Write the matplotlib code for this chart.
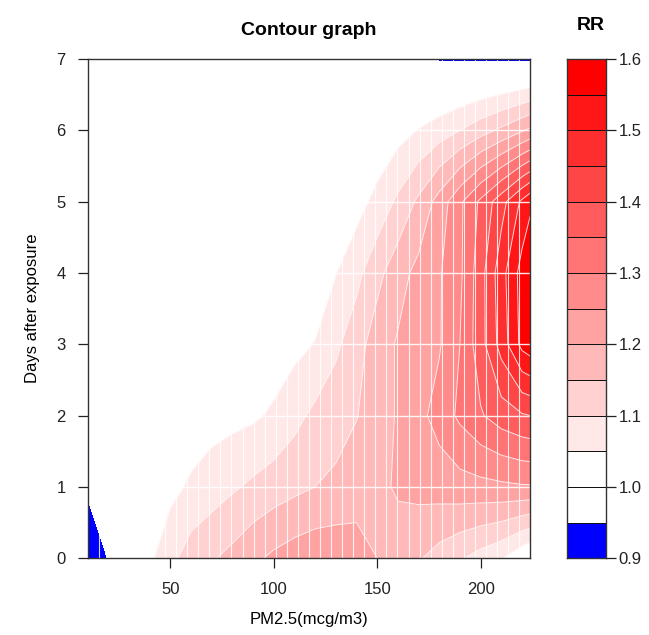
import numpy as np
import matplotlib
matplotlib.use("Agg")
import matplotlib.pyplot as plt
from matplotlib.colors import ListedColormap, BoundaryNorm

plt.rcParams['font.family'] = ['Liberation Sans', 'DejaVu Sans']

# exposure grid (PM2.5) and lag days
pm = np.array([10, 20, 30, 40, 50, 60, 70, 80, 90, 100, 110, 120, 130, 140,
               150, 160, 170, 180, 190, 200, 210, 220, 224])
lags = np.arange(0, 8)

# RR, one row per lag day
rr_lag0 = [0.91, 0.952, 0.99, 1.04, 1.085, 1.125, 1.145, 1.165, 1.19, 1.21, 1.225, 1.235,
           1.235, 1.225, 1.20, 1.18, 1.155, 1.13, 1.105, 1.08, 1.055, 1.01, 0.995]
rr_lag1 = [0.9576, 0.975, 0.995, 1.015, 1.035, 1.058, 1.075, 1.093, 1.11, 1.125, 1.138, 1.15,
           1.16, 1.175, 1.19, 1.205, 1.215, 1.222, 1.23, 1.235, 1.24, 1.245, 1.245]
rr_lag2 = [0.99, 0.995, 1.0, 1.005, 1.01, 1.02, 1.03, 1.035, 1.042, 1.058, 1.085, 1.112,
           1.13, 1.148, 1.175, 1.205, 1.235, 1.27, 1.31, 1.345, 1.375, 1.395, 1.40]
rr_lag3 = [1.0, 1.0, 1.0, 1.0, 1.005, 1.005, 1.01, 1.01, 1.015, 1.02, 1.035, 1.052,
           1.09, 1.13, 1.175, 1.205, 1.225, 1.245, 1.30, 1.38, 1.47, 1.565, 1.58]
rr_lag4 = [1.0, 1.0, 1.0, 1.0, 1.0, 1.0, 1.005, 1.005, 1.01, 1.01, 1.015, 1.02,
           1.048, 1.085, 1.135, 1.18, 1.215, 1.245, 1.29, 1.38, 1.48, 1.57, 1.59]
rr_lag5 = [1.0, 1.0, 1.0, 1.0, 1.0, 1.0, 1.0, 1.0, 1.0, 1.005, 1.005, 1.01,
           1.015, 1.03, 1.065, 1.11, 1.16, 1.22, 1.29, 1.36, 1.43, 1.51, 1.54]
rr_lag6 = [1.0, 1.0, 1.0, 1.0, 1.0, 1.0, 1.0, 1.0, 1.0, 1.0, 1.0, 1.0,
           1.0, 1.005, 1.01, 1.03, 1.052, 1.075, 1.10, 1.13, 1.16, 1.195, 1.21]
rr_lag7 = [1.0, 1.0, 1.0, 1.0, 1.0, 1.0, 1.0, 1.0, 1.0, 1.0, 1.0, 1.0,
           1.0, 1.0, 0.995, 0.99, 0.97, 0.946, 0.944, 0.944, 0.943, 0.942, 0.942]

rr = np.array([rr_lag0, rr_lag1, rr_lag2, rr_lag3, rr_lag4, rr_lag5, rr_lag6, rr_lag7])

levels = np.round(np.arange(0.9, 1.6001, 0.05), 2)
key_ticks = [0.9, 1.0, 1.1, 1.2, 1.3, 1.4, 1.5, 1.6]

# blue -> white below 1, white -> red above 1
n_red = 12
reds = [(1.0, 1 - i / (n_red - 1), 1 - i / (n_red - 1)) for i in range(n_red)]
cols = [(0, 0, 1), (1, 1, 1)] + reds
cmap = ListedColormap(cols)
norm = BoundaryNorm(levels, cmap.N)

fig = plt.figure(figsize=(6.49, 6.35), dpi=100)
ax = fig.add_axes([0.135, 0.121, 0.682, 0.786])
cax = fig.add_axes([0.8737, 0.121, 0.060, 0.786])

ax.contourf(pm, lags, rr, levels=levels, colors=cols)
ax.contour(pm, lags, rr, levels=levels[2:], colors='white', linewidths=0.7, alpha=0.85)

# cell seams like the R polygon rendering
seam_x = np.linspace(pm[0], pm[-1], 41)[1:-1]
ax.vlines(seam_x, 0, 7, colors='white', linewidth=0.8, alpha=0.85)
ax.hlines(lags[1:-1], pm[0], pm[-1], colors='white', linewidth=1.0, alpha=0.9)

ax.set_xlim(pm[0], pm[-1])
ax.set_ylim(0, 7)
ax.set_xticks([50, 100, 150, 200])
ax.set_yticks(range(0, 8))
ax.tick_params(axis='both', direction='out', length=7.2, width=0.9, labelsize=12,
               colors='#222222')
ax.tick_params(axis='x', pad=10)
ax.tick_params(axis='y', pad=8.5)
for s in ax.spines.values():
    s.set_color('#333333')
    s.set_linewidth(1.0)
ax.set_xlabel('PM2.5(mcg/m3)', fontsize=12, labelpad=11)
ax.set_ylabel('Days after exposure', fontsize=12, labelpad=12)
ax.set_title('Contour graph', fontsize=14, fontweight='bold', pad=17)

# colour key
kx = np.array([0, 1])
cax.pcolormesh(kx, levels, ((levels[:-1] + levels[1:]) / 2)[:, None], cmap=cmap, norm=norm,
               edgecolors='#111111', linewidth=0.6)
cax.set_xlim(0, 1)
cax.set_ylim(0.9, 1.6)
cax.set_xticks([])
cax.yaxis.tick_right()
cax.set_yticks(key_ticks)
cax.set_yticklabels([f'{t:.1f}' for t in key_ticks])
cax.tick_params(direction='out', length=7.2, width=0.9, labelsize=12, pad=2,
                colors='#222222')
for s in cax.spines.values():
    s.set_color('#333333')
    s.set_linewidth(1.0)
fig.text(591 / 649, 1 - 26 / 635, 'RR', fontsize=14, fontweight='bold',
         ha='center', va='center')

fig.savefig('out.png', dpi=100)
